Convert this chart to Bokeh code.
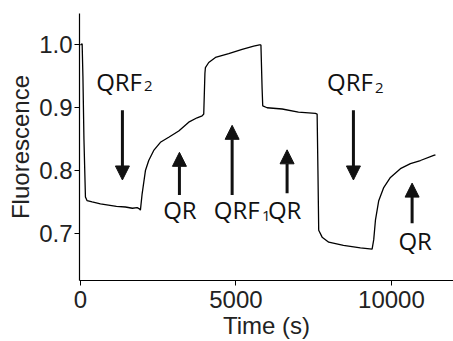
from bokeh.plotting import figure
from bokeh.models import Range1d, Arrow, NormalHead, Title, PrintfTickFormatter
from bokeh.core.properties import value
from bokeh.embed import file_html
from bokeh.resources import INLINE

# Fluorescence trace (time in s, normalised fluorescence)
time_s = [0, 55, 80, 113, 161, 215, 376, 643, 900, 1158, 1447, 1672, 1823, 1897, 1929,
          1984, 2090, 2196, 2357, 2572, 2839, 3161, 3482, 3752, 3913, 3965,
          4003, 4019, 4125, 4341, 4768, 5199, 5572, 5756, 5804,
          5842, 5862, 6003, 6486, 7010, 7556, 7611,
          7637, 7662, 7772, 7984, 8457, 9003, 9379,
          9431, 9486, 9592, 9752, 9968, 10289, 10611, 10932, 11360, 11415]
fluor = [1.000, 1.002, 0.950, 0.850, 0.758, 0.752, 0.750, 0.747, 0.745, 0.743, 0.742, 0.740, 0.741, 0.739, 0.737,
         0.763, 0.800, 0.816, 0.832, 0.845, 0.853, 0.863, 0.877, 0.884, 0.887, 0.890,
         0.955, 0.964, 0.972, 0.980, 0.986, 0.993, 0.998, 1.000, 1.000,
         0.930, 0.903, 0.900, 0.898, 0.893, 0.891, 0.890,
         0.800, 0.705, 0.694, 0.686, 0.681, 0.677, 0.675,
         0.690, 0.721, 0.752, 0.773, 0.789, 0.803, 0.811, 0.816, 0.824, 0.825]

# Arrow annotations
arrow_t = [1350, 3183, 4878, 6645, 8778, 10665]
arrow_from = [0.896, 0.761, 0.761, 0.764, 0.896, 0.716]
arrow_to = [0.785, 0.829, 0.872, 0.833, 0.785, 0.780]

# Text annotations (left edge, baseline)
label_text = ["QRF", "QR", "QRF", "QR", "QRF", "QR"]
label_t = [505, 2659, 4286, 6029, 7932, 10225]
label_f = [0.942, 0.738, 0.738, 0.738, 0.941, 0.688]
sub_text = ["2", "1", "2"]
sub_t = [2042, 5836, 9469]
sub_f = [0.934, 0.728, 0.932]

x_ticks = [0, 5000, 10000]
y_ticks = [0.7, 0.8, 0.9, 1.0]
x_title = "Time (s)"
y_title = "Fluorescence"

p = figure(width=453, height=341, x_range=Range1d(-30, 11996), y_range=Range1d(0.625, 1.05),
           output_backend="svg", toolbar_location=None,
           min_border_left=79, min_border_right=0, min_border_top=13, min_border_bottom=60)
p.outline_line_color = None
p.grid.visible = False
p.background_fill_color = "white"

p.line(time_s, fluor, line_color="black", line_width=1.3)

for t, f0, f1 in zip(arrow_t, arrow_from, arrow_to):
    p.add_layout(Arrow(x_start=t, y_start=f0, x_end=t, y_end=f1, line_width=3, line_color="#111111",
                       end=NormalHead(size=14, fill_color="#111111", line_color="#111111", line_width=1)))

p.text(x=label_t, y=label_f, text=label_text, text_font=value("Open Sans"), text_font_size="24px",
       text_baseline="alphabetic", text_align="left", text_color="#111111")
p.text(x=sub_t, y=sub_f, text=sub_text, text_font=value("Open Sans"), text_font_size="15px",
       text_baseline="alphabetic", text_align="left", text_color="#111111")

for ax in (p.xaxis, p.yaxis):
    ax.axis_line_color = "black"
    ax.axis_line_width = 1.2
    ax.major_tick_line_color = "black"
    ax.minor_tick_line_color = "black"
    ax.major_tick_out = 5
    ax.major_tick_in = 0
    ax.minor_tick_out = 3
    ax.minor_tick_in = 0
    ax.major_label_text_font = "Liberation Sans"
    ax.major_label_text_font_size = "24px"
    ax.major_label_text_color = "#222222"
    ax.axis_label_text_font = "Liberation Sans"
    ax.axis_label_text_font_size = "24px"
    ax.axis_label_text_font_style = "normal"
    ax.axis_label_text_color = "#222222"

p.xaxis.ticker = x_ticks
p.xaxis.ticker.num_minor_ticks = 2
p.yaxis.ticker = y_ticks
p.yaxis.ticker.num_minor_ticks = 2
p.yaxis.formatter = PrintfTickFormatter(format="%.1f")
p.xaxis.major_label_standoff = 5
p.yaxis.major_label_standoff = 2
p.xaxis.axis_label = x_title
p.xaxis.axis_label_standoff = 1

p.add_layout(Title(text=y_title, align="center", offset=-18, standoff=6,
                   text_font="Liberation Sans", text_font_size="24px", text_font_style="normal",
                   text_color="#222222"), "left")

open("out.html", "w").write(file_html(p, INLINE))
